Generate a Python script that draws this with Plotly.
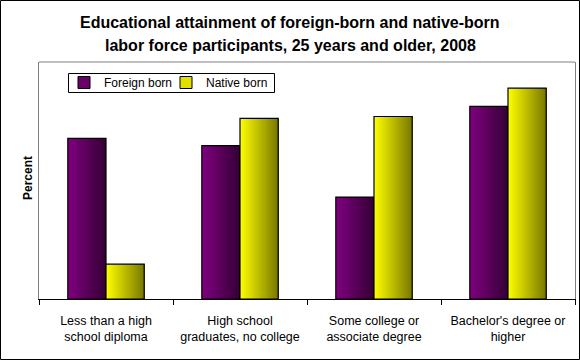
import plotly.graph_objects as go

categories = ["Less than a high<br>school diploma", "High school<br>graduates, no college",
              "Some college or<br>associate degree", "Bachelor's degree or<br>higher"]
foreign_born = [27.1, 25.9, 17.2, 32.5]
native_born = [5.9, 30.5, 30.8, 35.6]
series_names = ["Foreign born", "Native born"]

W, H = 580, 360
L, R, T, B = 39, 5, 62, 61
PW, PH = W - L - R, H - T - B


def px_x(p):
    return (p - L) / PW


def px_y(p):
    return (H - B - p) / PH


BW = 0.285  # bar width in category units
K = 20      # gradient slices


def lerp(c1, c2, t):
    return "rgb(%d,%d,%d)" % tuple(round(a + (b - a) * t) for a, b in zip(c1, c2))


grads = [((128, 0, 128), (52, 0, 52)), ((255, 255, 0), (120, 120, 0))]
mids = ["#6a006a", "#e0e000"]
offsets = [-BW, 0.0]
legend_ids = ["legend", "legend2"]

fig = go.Figure()
for values, name, (c1, c2), off, mid, lg in zip([foreign_born, native_born], series_names, grads,
                                                offsets, mids, legend_ids):
    for k in range(K):
        fig.add_trace(go.Bar(
            x=categories, y=values, width=BW - k * BW / K, offset=off + k * BW / K,
            marker=dict(color=lerp(c1, c2, (k + 0.5) / K), line=dict(width=0)),
            showlegend=False, hoverinfo="skip"))
    fig.add_trace(go.Bar(
        x=categories, y=values, width=BW, offset=off, name=name,
        marker=dict(color="rgba(0,0,0,0)", line=dict(color="black", width=1.2)),
        showlegend=False))
    fig.add_trace(go.Bar(
        x=[categories[0]], y=[None], name=name, legend=lg,
        marker=dict(color=mid, line=dict(color="black", width=1)),
        showlegend=True))

font = "Liberation Sans, Arial, sans-serif"
leg_common = dict(orientation="h", xanchor="left", yanchor="middle", y=px_y(82.5),
                  borderwidth=0, bgcolor="rgba(0,0,0,0)", font=dict(size=12), itemwidth=30)

fig.update_layout(
    width=W, height=H,
    margin=dict(l=L, r=R, t=T, b=B),
    barmode="overlay",
    paper_bgcolor="white", plot_bgcolor="white",
    font=dict(family=font, size=12, color="black"),
    showlegend=True,
    legend=dict(x=px_x(64), **leg_common),
    legend2=dict(x=px_x(166), **leg_common),
    xaxis=dict(showline=True, linecolor="black", linewidth=1, ticks="outside", tickson="boundaries",
               ticklen=5, tickcolor="black", showgrid=False, tickfont=dict(size=12.5),
               ticklabelstandoff=10, fixedrange=True),
    yaxis=dict(range=[0, 40], showline=True, linecolor="#808080", linewidth=1, mirror=True,
               showticklabels=False, ticks="", showgrid=False, zeroline=False, fixedrange=True),
    annotations=[
        dict(text="<b>Educational attainment of foreign-born and native-born</b>", xref="paper", yref="paper",
             x=px_x(290), y=px_y(22), xanchor="center", yanchor="middle", showarrow=False,
             font=dict(size=16)),
        dict(text="<b>labor force participants, 25 years and older, 2008</b>", xref="paper", yref="paper",
             x=px_x(290), y=px_y(46), xanchor="center", yanchor="middle", showarrow=False,
             font=dict(size=16)),
        dict(text="<b>Percent</b>", xref="paper", yref="paper", x=px_x(28), y=px_y(178),
             xanchor="center", yanchor="middle", textangle=-90, showarrow=False, font=dict(size=12)),
    ],
    shapes=[
        dict(type="line", xref="paper", yref="paper", x0=0, x1=1, y0=1, y1=1,
             line=dict(color="#808080", width=1)),
        dict(type="rect", xref="paper", yref="paper",
             x0=px_x(0.5), x1=px_x(579.5), y0=px_y(359.5), y1=px_y(0.5),
             line=dict(color="black", width=1)),
        dict(type="rect", xref="paper", yref="paper", layer="above",
             x0=px_x(68.5), x1=px_x(274.5), y0=px_y(92.5), y1=px_y(73.5),
             fillcolor="white", line=dict(color="black", width=1)),
    ],
)

fig.write_html("out.html", config={"displayModeBar": False},
               post_script="document.body.style.margin='0';document.body.style.overflow='hidden';")
